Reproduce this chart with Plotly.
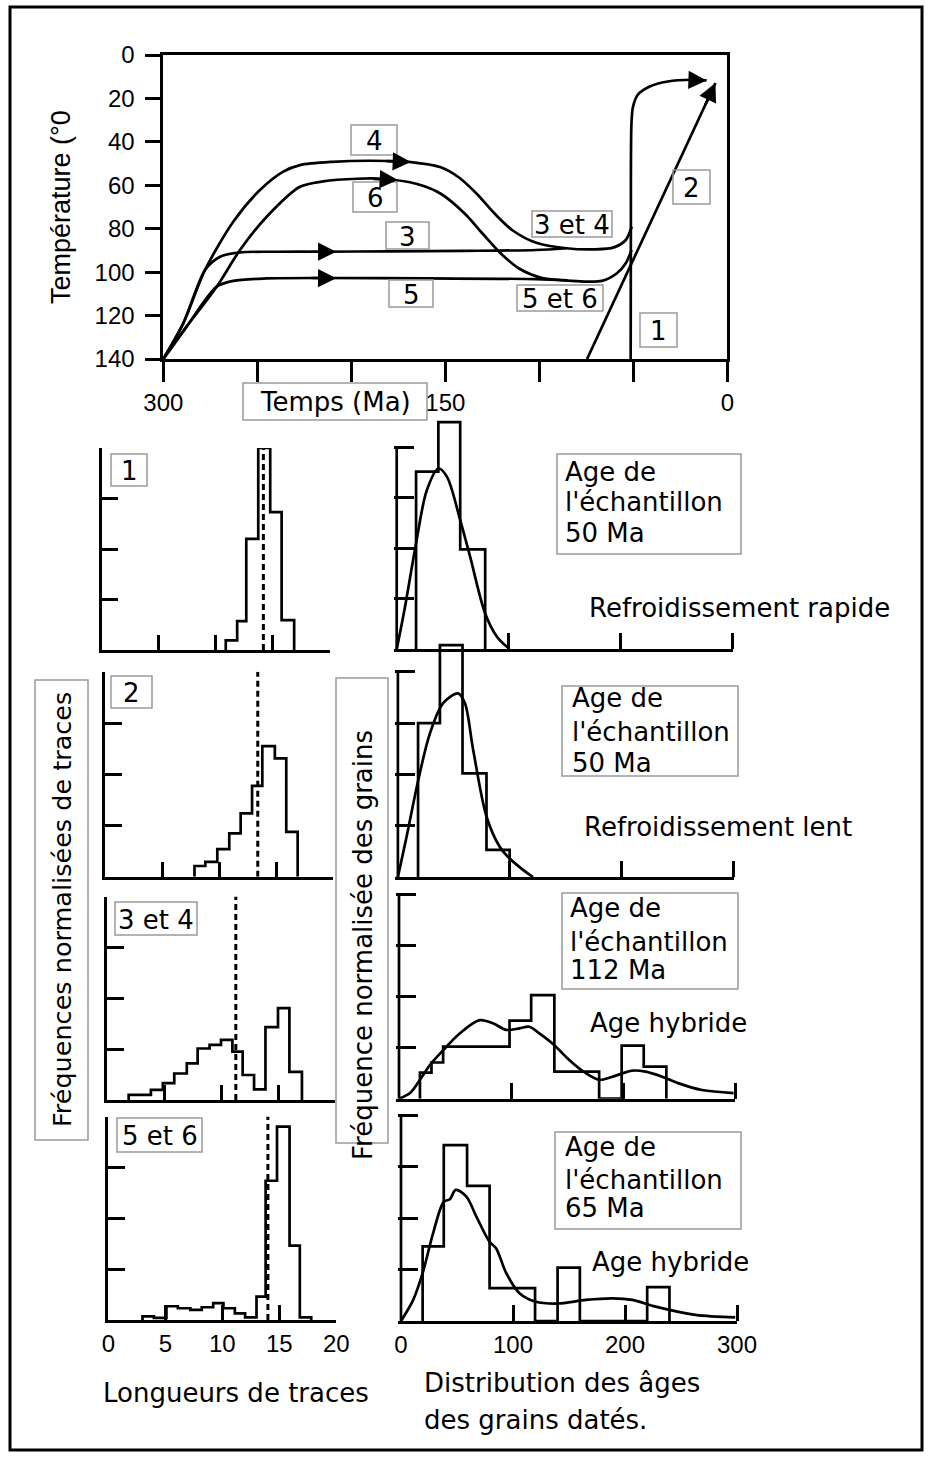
import plotly.graph_objects as go

W, H = 932, 1457
def X(px): return px / W
def Y(py): return 1 - py / H

# ---------------- DATA ----------------
# Top chart: thermal paths, time (Ma) vs temperature (deg C)
c1_t = [51.4, 51.3, 51.0, 50.2, 47.6, 41.3, 31.7, 19.0, 11.0]
c1_T = [140, 80, 32, 24, 18.3, 14.5, 12.2, 11.4, 11.7]
c2_t = [74.6, 6.3]
c2_T = [140, 12.9]
c3_t = [300, 289.4, 277.8, 269.8, 259.2, 240, 215.9, 180, 140, 101.6, 85.7]
c3_T = [140, 123.6, 99, 92.9, 90.9, 90.6, 90.6, 90.4, 90.2, 89.8, 89]
c4_t = [300, 289.4, 277.8, 262.8, 248.6, 236.2, 227.3, 210, 190, 168.3, 152.4, 142.9,
        133.3, 123.8, 114.3, 101.6, 85.7, 70, 60.3, 54, 50.8]
c4_T = [140, 123.6, 99, 76.8, 62.2, 53.7, 50.7, 49.2, 48.7, 49.3, 51.7, 56.3,
        63.9, 73, 80.7, 86.5, 89, 89.5, 88.6, 85.2, 79]
c5_t = [300, 287.6, 271.6, 262.8, 245, 215.9, 160, 101.6, 85]
c5_T = [140, 125.1, 106.7, 104, 102.9, 102.7, 102.9, 103.2, 103.8]
c6_t = [300, 287.6, 271.6, 259.2, 245, 227.3, 215, 196.8, 184, 165, 152.4, 139.7,
        130.2, 120.6, 111, 98.4, 82.5, 66.7, 58.7, 54, 50.9]
c6_T = [140, 125.1, 106.7, 89.8, 74.5, 60.7, 58.2, 57, 57, 59.4, 63.9, 73,
        82.2, 91.3, 98.2, 102.7, 104, 104, 100.5, 95.9, 89.8]
# arrow heads (tip, tail) on the paths
arrows = [((168.3, 49.3), (182, 48.8)),
          ((175.2, 57.6), (189, 57.0)),
          ((208, 90.6), (222, 90.6)),
          ((208, 102.8), (222, 102.7)),
          ((11.0, 11.7), (21, 11.4)),
          ((6.3, 12.9), (12, 23.5))]

top_xticks = [300, 250, 200, 150, 100, 50, 0]
top_xtext = ['300', '', '', '150', '', '', '0']
top_yticks = [0, 20, 40, 60, 80, 100, 120, 140]

# Left column: track-length histograms (length in microns, normalised frequency)
L_edges = [
    [10.9, 11.9, 12.7, 13.75, 14.8, 15.8, 16.9],
    [7.85, 8.8, 9.85, 10.9, 11.9, 12.9, 13.8, 14.9, 15.9, 16.9],
    [1.9, 3.85, 4.9, 5.9, 7.0, 7.95, 9.0, 10.0, 11.0, 11.9, 12.9, 13.9, 15.0, 16.0, 17.1],
    [3.0, 4.0, 5.1, 6.1, 7.2, 8.2, 9.2, 10.1, 11.1, 12.0, 13.0, 13.8, 14.8, 15.9, 16.8, 17.8],
]
L_heights = [
    [0.19, 0.57, 2.2, 4.0, 2.73, 0.59],
    [0.21, 0.29, 0.54, 0.85, 1.24, 1.78, 2.56, 2.32, 0.88],
    [0.1, 0.2, 0.33, 0.52, 0.72, 1.01, 1.08, 1.18, 0.95, 0.49, 0.21, 1.43, 1.8, 0.55],
    [0.07, 0.04, 0.27, 0.23, 0.2, 0.25, 0.33, 0.23, 0.13, 0.05, 0.46, 2.73, 3.79, 1.46, 0.05],
]
L_mean = [14.2, 13.4, 11.3, 14.0]
L_labels = ['1', '2', '3 et 4', '5 et 6']
L_xlabels = [0, 5, 10, 15, 20]

# Right column: grain-age histograms (Ma) and fitted density curves
R_edges = [
    [17.3, 37.2, 56.7, 79],
    [18, 37.5, 57.7, 79.1, 99.8],
    [18.7, 29, 39.4, 98.7, 118, 138.7, 178.7, 198.8, 218.5, 238.7],
    [19.3, 38.2, 59, 79.1, 119.7, 139.8, 159.7, 219.8, 239.7],
]
R_heights = [
    [3.52, 4.5, 1.98],
    [3.0, 4.52, 2.02, 0.53],
    [0.51, 0.71, 1.02, 1.53, 2.03, 0.53, 0, 1.04, 0.63],
    [1.45, 3.42, 2.63, 0.64, 0, 1.04, 0, 0.66],
]
R_curve_x = [
    [0, 7.4, 17.3, 26.9, 37.3, 44.8, 56.7, 65.6, 79, 89.5, 100],
    [0, 7.8, 18.2, 28.6, 40.4, 53.8, 59.8, 67.2, 79.1, 90.9, 99.8, 111.7, 120.6],
    [0, 9.8, 18.7, 27.6, 39.4, 54.2, 72, 83.8, 95.7, 107.6, 116.4, 125.3, 138.7, 152,
     166.8, 178.7, 190.5, 208.3, 220.2, 235, 249.8, 270.5, 298.7],
    [0, 10.9, 19.3, 28.7, 38.2, 43.6, 48.9, 58.4, 67.3, 79.1, 85, 94, 105.8, 119.7,
     139.8, 165, 188.7, 206.5, 227.3, 262.8, 298.4],
]
R_curve_y = [
    [0, 0.84, 2.1, 3.15, 3.58, 3.42, 2.56, 1.83, 0.71, 0.25, 0.02],
    [0, 0.79, 1.89, 2.8, 3.39, 3.58, 3.39, 2.48, 1.18, 0.59, 0.36, 0.14, 0.0],
    [0, 0.11, 0.37, 0.66, 0.95, 1.28, 1.54, 1.48, 1.35, 1.38, 1.41, 1.28, 1.05, 0.76,
     0.5, 0.37, 0.43, 0.55, 0.53, 0.43, 0.3, 0.17, 0.11],
    [0, 0.41, 0.93, 1.71, 2.32, 2.37, 2.55, 2.42, 2.03, 1.54, 1.41, 0.93, 0.54, 0.38,
     0.34, 0.41, 0.44, 0.41, 0.28, 0.12, 0.07],
]
R_ages = ['50 Ma', '50 Ma', '112 Ma', '65 Ma']
R_notes = ['Refroidissement rapide', 'Refroidissement lent', 'Age hybride', 'Age hybride']
R_xlabels = [0, 100, 200, 300]

# ---------------- STYLE / LAYOUT ----------------
LW = 2.7
TICKF = dict(family='Liberation Sans, Arial, sans-serif', size=24, color='black')
TXTF = dict(family='DejaVu Sans, sans-serif', size=26, color='black')
GRAY = '#9a9a9a'

fig = go.Figure()

def add_line(x, y, xa, ya, shape='linear', dash=None, width=LW, smoothing=None):
    line = dict(color='black', width=width, shape=shape)
    if dash:
        line['dash'] = dash
    if smoothing is not None:
        line['smoothing'] = smoothing
    fig.add_trace(go.Scatter(x=x, y=y, xaxis=xa, yaxis=ya, mode='lines', line=line,
                             hoverinfo='skip', showlegend=False))

def steps(edges, heights):
    xs, ys = [edges[0]], [0]
    for i, h in enumerate(heights):
        xs += [edges[i], edges[i + 1]]
        ys += [h, h]
    xs.append(edges[-1])
    ys.append(0)
    return xs, ys

layout = dict(width=W, height=H, autosize=False,
              margin=dict(l=0, r=0, t=0, b=0, pad=0, autoexpand=False),
              paper_bgcolor='white', plot_bgcolor='rgba(0,0,0,0)', showlegend=False)

base_ax = dict(showgrid=False, zeroline=False, fixedrange=True, automargin=False,
               linecolor='black', linewidth=LW, tickcolor='black', tickwidth=LW)

# Top chart
layout['xaxis'] = dict(base_ax, domain=[X(163.3), X(727.3)], range=[300, 0], anchor='y',
                       showline=True, mirror=True, ticks='outside', ticklen=20,
                       tickmode='array', tickvals=top_xticks, ticktext=top_xtext,
                       tickfont=TICKF)
layout['yaxis'] = dict(base_ax, domain=[Y(359), Y(55)], range=[140, 0], anchor='x',
                       showline=True, mirror=True, ticks='outside', ticklen=15,
                       tickmode='array', tickvals=top_yticks, tickfont=TICKF,
                       ticklabelstandoff=6)

for t, T in [(c1_t, c1_T), (c3_t, c3_T), (c4_t, c4_T), (c5_t, c5_T), (c6_t, c6_T)]:
    add_line(t, T, 'x', 'y', shape='spline', smoothing=0.8)
add_line(c2_t, c2_T, 'x', 'y')

annotations = []
shapes = []
for (tip, tail) in arrows:
    annotations.append(dict(x=tip[0], y=tip[1], ax=tail[0], ay=tail[1], xref='x', yref='y',
                            axref='x', ayref='y', showarrow=True, arrowhead=2, arrowsize=1.35,
                            arrowwidth=LW, arrowcolor='black', text='', standoff=0))

def box(x0, y0, x1, y1, color=GRAY, width=1.5):
    shapes.append(dict(type='rect', xref='paper', yref='paper', x0=X(x0), x1=X(x1),
                       y0=Y(y1), y1=Y(y0), line=dict(color=color, width=width),
                       fillcolor='rgba(0,0,0,0)'))

def text(px, py, s, font=TXTF, xanchor='center', angle=0):
    annotations.append(dict(x=X(px), y=Y(py), xref='paper', yref='paper', text=s,
                            showarrow=False, font=font, xanchor=xanchor, yanchor='middle',
                            textangle=angle))

# Path labels in top chart
top_labels = [('4', 351, 125, 397, 155), ('6', 353, 182, 397, 212), ('3', 386, 222, 429, 249),
              ('5', 389, 280, 433, 307), ('3 et 4', 532, 211, 612, 237),
              ('5 et 6', 517, 285, 603, 311), ('2', 673, 170, 710, 204), ('1', 640, 313, 677, 347)]
for s, x0, y0, x1, y1 in top_labels:
    box(x0, y0, x1, y1)
    text((x0 + x1) / 2, (y0 + y1) / 2 + 1, s)
box(243, 383, 427, 420)
text(335, 402, 'Temps (Ma)')
text(61, 207, 'Température (°0', font=dict(TICKF, size=27), angle=-90)

# Left column panels
L_geom = [(101.5, 650, 50.5, 4.0), (105, 876.7, 51, 4.02), (107, 1100, 51, 3.99),
          (108.3, 1320, 51, 3.99)]
L_boxes = [(111, 454, 147, 486), (111, 676, 152, 708), (115, 902, 197, 935),
           (117, 1118, 202, 1152)]
for i, (x0, bot, unit, top) in enumerate(L_geom):
    k = i + 2
    xa, ya = f'x{k}', f'y{k}'
    last = (i == 3)
    layout[f'xaxis{k}'] = dict(base_ax, domain=[X(x0), X(x0 + 228)], range=[0, 20], anchor=ya,
                               showline=True, ticks='', tickmode='array', tickvals=L_xlabels,
                               showticklabels=last, tickfont=TICKF,
                               minor=dict(tickmode='array', tickvals=[5, 10, 15], ticks='inside',
                                          ticklen=15, tickwidth=LW, tickcolor='black',
                                          showgrid=False))
    layout[f'yaxis{k}'] = dict(base_ax, domain=[Y(bot), Y(bot - top * unit)], range=[0, top],
                               anchor=xa, showline=True, ticks='inside', ticklen=17,
                               tickmode='array', tickvals=[1, 2, 3], showticklabels=False)
    xs, ys = steps(L_edges[i], L_heights[i])
    add_line(xs, ys, xa, ya)
    add_line([L_mean[i], L_mean[i]], [0, top], xa, ya, dash='6px,4px', width=3)
    bx = L_boxes[i]
    box(*bx)
    text((bx[0] + bx[2]) / 2, (bx[1] + bx[3]) / 2 + 1, L_labels[i])

# Right column panels
R_geom = [(396.7, 649.3, 50.5), (397.9, 877, 51.3), (399, 1098.7, 51), (401, 1321, 51.4)]
R_top = 4.6
R_boxes = [(557, 454, 741, 554), (562, 686, 738, 776), (562, 893, 738, 989), (555, 1132, 741, 1229)]
R_lines = [(563, [471.7, 501.7, 533]), (570, [698, 731.7, 763.3]),
           (568, [908, 941.7, 970]), (563, [1146.7, 1180, 1208])]
R_note_pos = [(587, 608), (582, 827), (588, 1023), (590, 1262)]
pxu = 336 / 300
for i, (x0, bot, unit) in enumerate(R_geom):
    k = i + 6
    xa, ya = f'x{k}', f'y{k}'
    last = (i == 3)
    layout[f'xaxis{k}'] = dict(base_ax, domain=[X(x0 - 2.5 * pxu), X(x0 + 336)],
                               range=[-2.5, 300], anchor=ya, showline=True, ticks='',
                               tickmode='array', tickvals=R_xlabels, showticklabels=last,
                               tickfont=TICKF,
                               minor=dict(tickmode='array', tickvals=[100, 200, 300],
                                          ticks='inside', ticklen=16, tickwidth=LW,
                                          tickcolor='black', showgrid=False))
    layout[f'yaxis{k}'] = dict(base_ax, domain=[Y(bot), Y(bot - R_top * unit)],
                               range=[0, R_top], anchor=xa, showline=False, ticks='inside',
                               ticklen=20, tickmode='array', tickvals=[1, 2, 3, 4],
                               showticklabels=False)
    add_line([0, 0], [0, 4], xa, ya)
    xs, ys = steps(R_edges[i], R_heights[i])
    add_line(xs, ys, xa, ya)
    add_line(R_curve_x[i], R_curve_y[i], xa, ya, shape='spline', smoothing=0.9)
    box(*R_boxes[i])
    lx, lys = R_lines[i]
    for s, ly in zip(['Age de', "l'échantillon", R_ages[i]], lys):
        text(lx, ly, s, xanchor='left')
    nx, ny = R_note_pos[i]
    text(nx, ny, R_notes[i], xanchor='left')

# Side and bottom titles
box(35, 680, 88, 1140)
text(62, 910, 'Fréquences normalisées de traces', font=dict(TXTF, size=25.5), angle=-90)
box(336, 678, 388, 1143)
text(363, 945, 'Fréquence normalisée des grains', angle=-90)
text(101, 1393, 'Longueurs de traces', xanchor='left')
text(422, 1383, 'Distribution des âges', xanchor='left')
text(422, 1420, 'des grains datés.', xanchor='left')

# Outer frame
shapes.append(dict(type='rect', xref='paper', yref='paper', x0=X(10), x1=X(922),
                   y0=Y(1450), y1=Y(7), line=dict(color='black', width=3)))

layout['annotations'] = annotations
layout['shapes'] = shapes
fig.update_layout(**layout)
fig.write_html('out.html')
